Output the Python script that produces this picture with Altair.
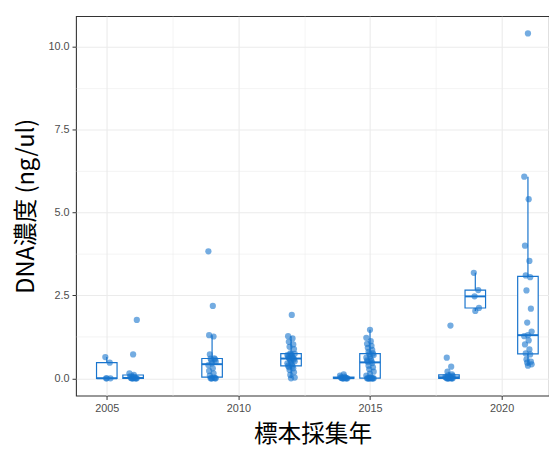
import altair as alt
import pandas as pd

# ---- data ----
years = [2005, 2006, 2009, 2012, 2014, 2015, 2018, 2019, 2021]
v2005 = [0, 0, 0, 0.47, 0.64]
v2006 = [0, 0, 0, 0, 0, 0, 0.01, 0.03, 0.06, 0.10, 0.15, 0.72, 1.76]
v2009 = [0, 0, 0, 0, 0, 0.02, 0.08, 0.15, 0.22, 0.30, 0.40, 0.45, 0.50, 0.54,
         0.57, 0.59, 0.60, 0.72, 1.26, 1.30, 2.18, 3.83]
v2012 = [0.0, 0.02, 0.10, 0.18, 0.25, 0.30, 0.34, 0.36, 0.38, 0.42, 0.45, 0.48,
         0.51, 0.54, 0.57, 0.59, 0.60, 0.62, 0.64, 0.66, 0.68, 0.70, 0.72, 0.74,
         0.75, 0.88, 0.95, 1.02, 1.10, 1.20, 1.27, 1.91]
v2014 = [0, 0, 0, 0, 0, 0, 0.01, 0.02, 0.03, 0.05, 0.08, 0.12]
v2015 = [0, 0, 0, 0, 0, 0, 0, 0, 0, 0.03, 0.08, 0.14, 0.20, 0.27, 0.33, 0.38,
         0.46, 0.50, 0.52, 0.54, 0.58, 0.62, 0.66, 0.70, 0.73, 0.75, 0.80, 0.86,
         0.92, 0.98, 1.04, 1.12, 1.22, 1.46]
v2018 = [0, 0, 0, 0, 0, 0, 0, 0.01, 0.02, 0.03, 0.04, 0.05, 0.07, 0.09, 0.12,
         0.20, 0.35, 0.62, 1.59]
v2019 = [2.03, 2.12, 2.47, 2.66, 3.18]
v2021 = [0.38, 0.42, 0.47, 0.50, 0.57, 0.72, 0.75, 0.87, 1.02, 1.14, 1.27, 1.30,
         1.41, 1.68, 2.10, 2.65, 3.05, 3.10, 3.54, 4.00, 5.40, 6.08, 10.40]

x_ticks = [2005, 2007.5, 2010, 2012.5, 2015, 2017.5, 2020]
y_ticks = [0, 1.25, 2.5, 3.75, 5, 6.25, 7.5, 8.75, 10]

groups = [v2005, v2006, v2009, v2012, v2014, v2015, v2018, v2019, v2021]
df = pd.DataFrame(
    [{"year": y, "value": v} for y, vals in zip(years, groups) for v in vals]
)

BLUE = "#1874CD"
HALF = 0.39

x_scale = alt.Scale(domain=[2003.83, 2021.8], nice=False, zero=False)
y_scale = alt.Scale(domain=[-0.52, 10.92], nice=False, zero=False)

x_axis = alt.Axis(
    values=x_ticks,
    labelExpr="datum.value % 5 === 0 ? format(datum.value, 'd') : ''",
    gridWidth={"condition": {"test": "datum.value % 5 === 0", "value": 1.1}, "value": 0.55},
    tickOpacity={"condition": {"test": "datum.value % 5 === 0", "value": 1}, "value": 0},
    title="標本採集年",
    titlePadding=10,
    labelPadding=3,
)
y_axis = alt.Axis(
    values=y_ticks,
    labelExpr="datum.value % 2.5 === 0 ? format(datum.value, '.1f') : ''",
    gridWidth={"condition": {"test": "datum.value % 2.5 === 0", "value": 1.1}, "value": 0.55},
    tickOpacity={"condition": {"test": "datum.value % 2.5 === 0", "value": 1}, "value": 0},
    title="DNA濃度 (ng/ul)",
    titlePadding=10,
    labelPadding=3,
)


def X(field):
    return alt.X(field, type="quantitative", scale=x_scale, axis=x_axis, title="標本採集年")


def Y(field):
    return alt.Y(field, type="quantitative", scale=y_scale, axis=y_axis, title="DNA濃度 (ng/ul)")


stats = (
    alt.Chart(df)
    .transform_joinaggregate(q1="q1(value)", q3="q3(value)", med="median(value)", groupby=["year"])
    .transform_calculate(lo="datum.q1 - 1.5*(datum.q3 - datum.q1)",
                         hi="datum.q3 + 1.5*(datum.q3 - datum.q1)")
    .transform_filter("datum.value >= datum.lo && datum.value <= datum.hi")
    .transform_aggregate(q1="min(q1)", q3="min(q3)", med="min(med)",
                         wlo="min(value)", whi="max(value)", groupby=["year"])
    .transform_calculate(xl=f"datum.year - {HALF}", xr=f"datum.year + {HALF}")
)

whisk_hi = stats.mark_rule(color=BLUE, strokeWidth=1.2).encode(
    x=X("year"), y=Y("q3"), y2="whi:Q")
whisk_lo = stats.mark_rule(color=BLUE, strokeWidth=1.2).encode(
    x=X("year"), y=Y("wlo"), y2="q1:Q")
box = stats.mark_rect(fill="white", stroke=BLUE, strokeWidth=1.2).encode(
    x=X("xl"), x2="xr:Q", y=Y("q1"), y2="q3:Q")
median = stats.mark_rule(color=BLUE, strokeWidth=2).encode(
    x=X("xl"), x2="xr:Q", y=Y("med"))

points = (
    alt.Chart(df)
    .transform_window(rn="row_number()", groupby=["year"])
    .transform_calculate(jx="datum.year + (((datum.rn * 5) % 11) - 5) * 0.028")
    .mark_circle(size=40, color=BLUE, opacity=0.6)
    .encode(x=X("jx"), y=Y("value"))
)

chart = (
    alt.layer(whisk_hi, whisk_lo, box, median, points)
    .properties(
        width=480,
        height=385,
        autosize=alt.AutoSizeParams(type="none"),
        padding={"left": 69, "top": 5, "right": 0, "bottom": 51},
        background="white",
    )
    .configure_view(stroke="#333333", strokeWidth=1.1)
    .configure_axis(
        domain=False,
        tickColor="#333333",
        tickSize=4,
        labelColor="#4d4d4d",
        labelFont="Liberation Sans",
        labelFontSize=11,
        gridColor="#ebebeb",
        titleFont="Noto Sans CJK JP",
        titleFontSize=24,
        titleFontWeight="normal",
        titleColor="#000000",
    )
)

chart.save("out.html", embed_options={"renderer": "svg", "actions": False})
